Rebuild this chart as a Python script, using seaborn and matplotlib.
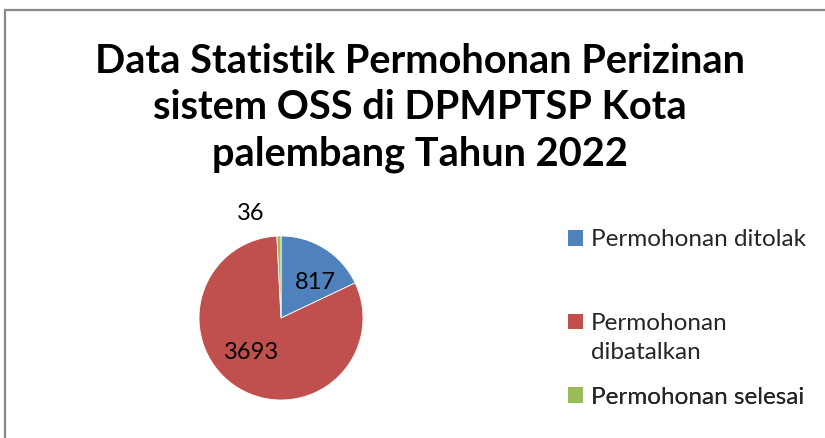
import numpy as np
import matplotlib
matplotlib.use("Agg")
import matplotlib.pyplot as plt
import seaborn as sns
from matplotlib.patches import Rectangle
from matplotlib.lines import Line2D
from matplotlib.legend_handler import HandlerPatch

# data
categories = ["Permohonan ditolak", "Permohonan\ndibatalkan", "Permohonan selesai"]
values = [817, 3693, 36]
colors = ["#4F81BD", "#C0504D", "#9BBB59"]
title = "Data Statistik Permohonan Perizinan\nsistem OSS di DPMPTSP Kota\npalembang Tahun 2022"

sns.set_theme(style="white")
plt.rcParams['font.family'] = ['Lato', 'DejaVu Sans']
pal = sns.color_palette(colors)

W, H = 825, 438
fig = plt.figure(figsize=(W / 100, H / 100), dpi=100)

# pie axes: centre (281, 318) px, radius 82 px
cx, cy, r = 281, 318, 82
lim = 1.4
side = 2 * lim * r
ax = fig.add_axes([(cx - side / 2) / W, (H - cy - side / 2) / H, side / W, side / H])
wedges, _ = ax.pie(values, colors=pal, startangle=90, counterclock=False,
                   wedgeprops=dict(edgecolor="white", linewidth=0.6))
ax.set_xlim(-lim, lim)
ax.set_ylim(-lim, lim)
ax.set_aspect("equal")
ax.axis("off")

# data labels (angle clockwise from top in degrees, distance in radii)
label_pos = [(44, 0.61), (221, 0.55), (344, 1.33)]
for v, (ang, dist) in zip(values, label_pos):
    a = np.deg2rad(90 - ang)
    ax.text(dist * np.cos(a), dist * np.sin(a), str(v), ha="center", va="center",
            fontsize=17, color="black", clip_on=False)

# title
fig.text(420 / W, 1 - 108 / H, title, ha="center", va="center", fontsize=28.6,
         fontweight="bold", linespacing=1.3, color="black")


# legend, one entry per block to follow the reference spacing
def square(shift):
    def make(legend, orig_handle, xdescent, ydescent, width, height, fontsize):
        return Rectangle((-xdescent, -ydescent + shift), width, height)
    return make


entry_y = [240, 338, 397]
shifts = [0, 12, 0]
for lab, col, yy, sh in zip(categories, pal, entry_y, shifts):
    h = Rectangle((0, 0), 1, 1, facecolor=col, edgecolor="none")
    leg = ax.legend([h], [lab], loc="center left",
                    bbox_to_anchor=(568 / W, 1 - yy / H), bbox_transform=fig.transFigure,
                    frameon=False, fontsize=17.5, handlelength=0.6, handleheight=0.6,
                    handletextpad=0.33, borderpad=0, borderaxespad=0,
                    handler_map={Rectangle: HandlerPatch(patch_func=square(sh))})
    for t in leg.get_texts():
        t.set_linespacing(1.42)
    ax.add_artist(leg)

# chart area border (only top and left edges visible)
bc = "#898989"
fig.add_artist(Line2D([5 / W, 5 / W], [0, 1 - 10 / H], transform=fig.transFigure,
                      color=bc, linewidth=1.6))
fig.add_artist(Line2D([5 / W, 1], [1 - 10 / H, 1 - 10 / H], transform=fig.transFigure,
                      color=bc, linewidth=1.6))

fig.savefig("out.png", dpi=100, facecolor="white")
